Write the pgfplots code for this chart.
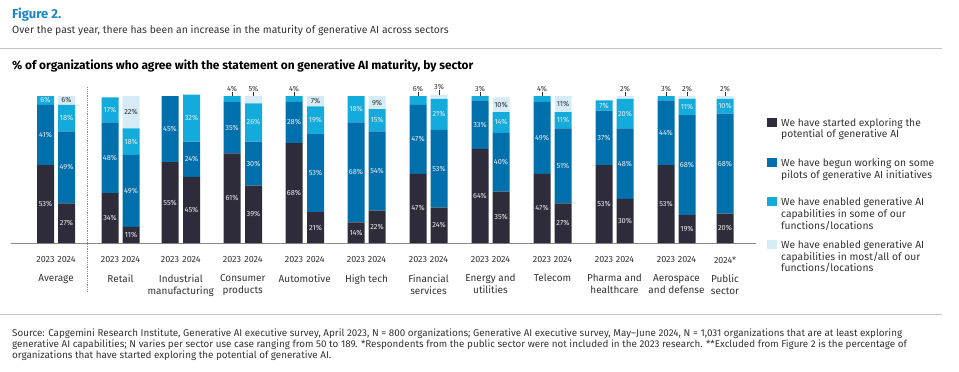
\documentclass[border=0pt]{standalone}
\usepackage{pgfplots}
\pgfplotsset{compat=1.18}
\usepackage{pgfplotstable}
\usepackage{fontspec}
\setmainfont{Fira Sans}
\definecolor{cdark}{HTML}{2E2C3B}
\definecolor{cblue}{HTML}{0070AD}
\definecolor{ccyan}{HTML}{12ABDB}
\definecolor{clight}{HTML}{D5EBF5}
\definecolor{ctext}{HTML}{333333}
\definecolor{cfig}{HTML}{1A86C8}
\definecolor{cline}{HTML}{C4C4C4}
\definecolor{caxis}{HTML}{8A8A8A}

\pgfplotstableread{
x a b c d
45.5 53 41 6 0
66.5 27 49 18 6
110 34 48 17 0
131 11 49 18 22
170 55 45 0 0
191.5 45 24 32 0
232 61 35 4 0
253.5 39 30 26 5
294 68 28 4 0
315.5 21 53 19 7
356 14 68 18 0
377 22 54 15 9
418 47 47 6 0
439 24 53 21 3
480 64 33 3 0
501 35 40 14 10
542 47 49 4 0
563 27 51 11 11
604 53 37 7 0
625 30 48 20 2
666 53 44 3 0
687 19 68 11 2
725 20 68 10 2
}\bars

\pgfplotstableread{
x y lab
45.5 26.5 53
45.5 73.5 41
45.5 97 6
66.5 13.5 27
66.5 51.5 49
66.5 85 18
110 17 34
110 58 48
110 90.5 17
131 5.5 11
131 35.5 49
131 69 18
170 27.5 55
170 77.5 45
191.5 22.5 45
191.5 57 24
191.5 85 32
232 30.5 61
232 78.5 35
253.5 19.5 39
253.5 54 30
253.5 82 26
294 34 68
294 82 28
315.5 10.5 21
315.5 47.5 53
315.5 83.5 19
356 7 14
356 48 68
356 91 18
377 11 22
377 49 54
377 83.5 15
418 23.5 47
418 70.5 47
439 12 24
439 50.5 53
439 87.5 21
480 32 64
480 80.5 33
501 17.5 35
501 55 40
501 82 14
542 23.5 47
542 71.5 49
563 13.5 27
563 52.5 51
563 83.5 11
604 26.5 53
604 71.5 37
604 93.5 7
625 15 30
625 54 48
625 88 20
666 26.5 53
666 75 44
687 9.5 19
687 53 68
687 92.5 11
725 10 20
725 54 68
725 93 10
}\whitelabels

\pgfplotstableread{
x y lab
66.5 97 6
131 89 22
315.5 96.5 7
377 95.5 9
501 94 10
563 94.5 11
}\darklabels

\pgfplotstableread{
x y lab
232 100 4
253.5 100 5
294 100 4
418 100 6
439 101 3
480 100 3
542 100 4
625 100 2
666 100 3
687 100 2
725 100 2
}\toplabels

\begin{document}
\begin{tikzpicture}
\path[use as bounding box] (0pt,0pt) rectangle (959pt,-372pt);

% header
\node[anchor=base west, inner sep=0pt, font=\fontsize{13}{15}\selectfont\bfseries, text=cfig] at (12pt,-19pt) {Figure 2.};
\node[anchor=base west, inner sep=0pt, font=\fontsize{10.4}{12}\selectfont, text=ctext] at (12pt,-34pt) {Over the past year, there has been an increase in the maturity of generative AI across sectors};
\draw[cline, line width=1pt] (0pt,-48.3pt) -- (942pt,-48.3pt);
\node[anchor=base west, inner sep=0pt, font=\fontsize{11.9}{13}\selectfont\bfseries, text=black] at (12pt,-69pt) {\% of organizations who agree with the statement on generative AI maturity, by sector};

% bars axis
\begin{axis}[
  at={(11pt,-243pt)}, anchor=south west,
  x=1pt, y=1.47pt,
  xmin=11, xmax=756, ymin=0, ymax=100,
  scale only axis, clip=false,
  ybar stacked, bar width=17,
  axis x line*=bottom, hide y axis,
  x axis line style={caxis, line width=1pt, -},
  major tick length=0pt,
  xtick={56,120.5,180.75,242.75,304.75,366.5,428.5,490.5,552.5,614.5,676.5,725},
  xticklabels={Average,Retail,Industrial\\manufacturing,Consumer\\products,Automotive,High tech,Financial\\services,Energy and\\utilities,Telecom,Pharma and\\healthcare,Aerospace\\and defense,Public\\sector},
  xticklabel style={font=\fontsize{10}{12}\selectfont, text=ctext, align=center, anchor=north, inner sep=0pt, yshift=-31pt},
]
\addplot[fill=cdark, draw=none] table[x=x, y=a] {\bars};
\addplot[fill=cblue, draw=none] table[x=x, y=b] {\bars};
\addplot[fill=ccyan, draw=none] table[x=x, y=c] {\bars};
\addplot[fill=clight, draw=none] table[x=x, y=d] {\bars};
\draw[caxis, densely dotted, line width=0.8pt] (axis cs:87,-33) -- (axis cs:87,106);
\end{axis}

% labels axis
\begin{axis}[
  at={(11pt,-243pt)}, anchor=south west,
  x=1pt, y=1.47pt,
  xmin=11, xmax=756, ymin=0, ymax=100,
  scale only axis, clip=false,
  axis x line*=bottom, hide y axis,
  x axis line style={draw=none},
  major tick length=0pt,
  xtick={45.5,66.5,110,131,170,191.5,232,253.5,294,315.5,356,377,418,439,480,501,542,563,604,625,666,687,725},
  xticklabels={2023,2024,2023,2024,2023,2024,2023,2024,2023,2024,2023,2024,2023,2024,2023,2024,2023,2024,2023,2024,2023,2024,2024*},
  xticklabel style={font=\fontsize{9}{10}\selectfont, text=ctext, anchor=north, inner sep=0pt, yshift=-13.5pt},
  point meta=explicit symbolic,
  nodes near coords={\pgfplotspointmeta\%},
]
\addplot[draw=none, mark=none, nodes near coords style={anchor=center, inner sep=0pt, font=\fontsize{7.4}{8}\selectfont, text=white!92!black}]
  table[x=x, y=y, meta=lab] {\whitelabels};
\addplot[draw=none, mark=none, nodes near coords style={anchor=center, inner sep=0pt, font=\fontsize{7.4}{8}\selectfont, text=ctext}]
  table[x=x, y=y, meta=lab] {\darklabels};
\addplot[draw=none, mark=none, nodes near coords style={anchor=south, inner sep=0pt, yshift=4.5pt, font=\fontsize{7.4}{8}\selectfont, text=ctext},
  error bars/.cd, y dir=plus, y fixed=2.8, error mark=none, error bar style={ctext, line width=0.6pt}]
  table[x=x, y=y, meta=lab] {\toplabels};
\end{axis}

% legend
\begin{scope}[every node/.style={anchor=north west, inner sep=0pt, align=left, font=\fontsize{10.3}{11.7}\selectfont, text=ctext}]
\fill[cdark] (767pt,-117.5pt) rectangle (777pt,-126.5pt);
\node at (781pt,-118pt) {We have started exploring the\\potential of generative AI};
\fill[cblue] (767pt,-157.8pt) rectangle (777pt,-166.8pt);
\node at (781pt,-158.3pt) {We have begun working on some\\pilots of generative AI initiatives};
\fill[ccyan] (767pt,-197.2pt) rectangle (777pt,-206.2pt);
\node at (781pt,-197.7pt) {We have enabled generative AI\\capabilities in some of our\\functions/locations};
\fill[clight] (767pt,-239.8pt) rectangle (777pt,-248.8pt);
\node at (781pt,-240.3pt) {We have enabled generative AI\\capabilities in most/all of our\\functions/locations};
\end{scope}

% footer
\draw[cline, line width=1pt] (0pt,-314pt) -- (942pt,-314pt);
\node[anchor=north west, inner sep=0pt, align=left, font=\fontsize{9.85}{11.3}\selectfont, text=ctext] at (12pt,-328.5pt) {Source: Capgemini Research Institute, Generative AI executive survey, April 2023, N = 800 organizations; Generative AI executive survey, May–June 2024, N = 1,031 organizations that are at least exploring\\generative AI capabilities; N varies per sector use case ranging from 50 to 189. *Respondents from the public sector were not included in the 2023 research. **Excluded from Figure 2 is the percentage of\\organizations that have started exploring the potential of generative AI.};
\end{tikzpicture}
\end{document}
